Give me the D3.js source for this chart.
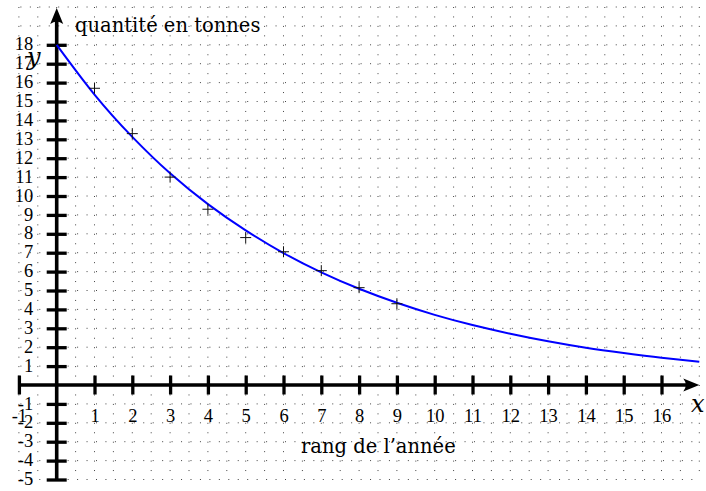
<!DOCTYPE html>
<meta charset="utf-8">
<script src="https://cdn.jsdelivr.net/npm/d3@7"></script>
<style>
body { margin: 0; background: #fff; }
svg text { font-family: "DejaVu Serif", serif; fill: #000; }
.axis path.domain { display: none; }
.axis .tick text { font-family: "Liberation Serif", serif; font-size: 18.5px; }
</style>
<body>
<div id="chart"></div>
</body>
<script>
// curve at each integer rank
var curveX = [0, 1, 2, 3, 4, 5, 6, 7, 8, 9, 10, 11, 12, 13, 14, 15, 16, 17];
var curveY = [18, 15.37, 13.13, 11.2, 9.57, 8.18, 6.98, 5.96, 5.09, 4.35, 3.71, 3.17, 2.71, 2.31, 1.97, 1.69, 1.44, 1.23];

// plotted measurements (crosses)
var pointX = [1, 2, 3, 4, 5, 6, 7, 8, 9];
var pointY = [15.7, 13.3, 11.0, 9.3, 7.8, 7.05, 6.05, 5.15, 4.3];

var xTicks = [-1, 1, 2, 3, 4, 5, 6, 7, 8, 9, 10, 11, 12, 13, 14, 15, 16];
var yTicks = [-5, -4, -3, -2, -1, 1, 2, 3, 4, 5, 6, 7, 8, 9, 10, 11, 12, 13, 14, 15, 16, 17, 18];

var width = 706, height = 491;

var x = d3.scaleLinear().domain([0, 17]).range([56.7, 699.3]);
var y = d3.scaleLinear().domain([0, 18]).range([385, 44.8]);

var svg = d3.select("#chart").append("svg")
    .attr("width", width)
    .attr("height", height);

// dotted grid
var grid = svg.append("g").attr("class", "grid")
    .attr("stroke", "#444")
    .attr("stroke-width", 1)
    .attr("stroke-dasharray", "1,8.45");

grid.selectAll(".v")
    .data(d3.range(-1, 17.01, 0.5))
    .enter().append("line")
    .attr("x1", function(d) { return x(d); })
    .attr("x2", function(d) { return x(d); })
    .attr("y1", y(20))
    .attr("y2", y(-5));

grid.selectAll(".h")
    .data(d3.range(-5, 20.01, 1))
    .enter().append("line")
    .attr("y1", function(d) { return y(d); })
    .attr("y2", function(d) { return y(d); })
    .attr("x1", x(-1) + 1.5)
    .attr("x2", x(17));

// axes lines
svg.append("line")
    .attr("x1", x(-1)).attr("x2", x(17) - 8)
    .attr("y1", y(0)).attr("y2", y(0))
    .attr("stroke", "#000").attr("stroke-width", 3.6);
svg.append("line")
    .attr("x1", x(0)).attr("x2", x(0))
    .attr("y1", y(-5)).attr("y2", 18)
    .attr("stroke", "#000").attr("stroke-width", 3.6);

// arrow heads
svg.append("path")
    .attr("d", "M0,0 L-16,-6.5 Q-11,0 -16,6.5 Z")
    .attr("transform", "translate(" + x(17) + "," + y(0) + ")")
    .attr("fill", "#000");
svg.append("path")
    .attr("d", "M0,0 L-16,-6.5 Q-11,0 -16,6.5 Z")
    .attr("transform", "translate(" + x(0) + ",8) rotate(-90)")
    .attr("fill", "#000");

function plain(d) { return String(d); }

// x axis: ticks crossing the line, labels below
var xAxis = svg.append("g")
    .attr("class", "axis")
    .attr("transform", "translate(0," + y(0) + ")")
    .call(d3.axisBottom(x).tickValues(xTicks).tickSize(9.5).tickFormat(plain));
xAxis.selectAll(".tick line")
    .attr("y1", -9.5)
    .attr("stroke-width", 3.3);
xAxis.selectAll(".tick text")
    .attr("y", 37)
    .attr("dy", 0);
xAxis.attr("font-family", null).attr("font-size", null);

// y axis
var yAxis = svg.append("g")
    .attr("class", "axis")
    .attr("transform", "translate(" + x(0) + ",0)")
    .call(d3.axisLeft(y).tickValues(yTicks).tickSize(10).tickPadding(13.5).tickFormat(plain));
yAxis.selectAll(".tick line")
    .attr("x1", 10)
    .attr("stroke-width", 3.3);
yAxis.selectAll(".tick text")
    .attr("dy", "0.28em");
yAxis.attr("font-family", null).attr("font-size", null);

// curve
var line = d3.line()
    .x(function(d, i) { return x(curveX[i]); })
    .y(function(d) { return y(d); })
    .curve(d3.curveNatural);

svg.append("path")
    .datum(curveY)
    .attr("d", line)
    .attr("fill", "none")
    .attr("stroke", "#0000ff")
    .attr("stroke-width", 2);

// crosses
svg.selectAll(".pt")
    .data(pointY)
    .enter().append("path")
    .attr("class", "pt")
    .attr("transform", function(d, i) { return "translate(" + x(pointX[i]) + "," + y(d) + ")"; })
    .attr("d", "M-5.5,0H5.5M0,-5.5V5.5")
    .attr("stroke", "#111")
    .attr("stroke-width", 1);

// labels
svg.append("text")
    .attr("x", 75).attr("y", 32)
    .style("font-size", "19.5px")
    .text("quantité en tonnes");
svg.append("text")
    .attr("x", 301).attr("y", 453)
    .style("font-size", "19.5px")
    .text("rang de l’année");
svg.append("text")
    .attr("x", 27).attr("y", 65)
    .style("font-size", "24px")
    .style("font-style", "italic")
    .text("y");
svg.append("text")
    .attr("x", 691).attr("y", 412)
    .style("font-size", "24px")
    .style("font-style", "italic")
    .text("x");
</script>
